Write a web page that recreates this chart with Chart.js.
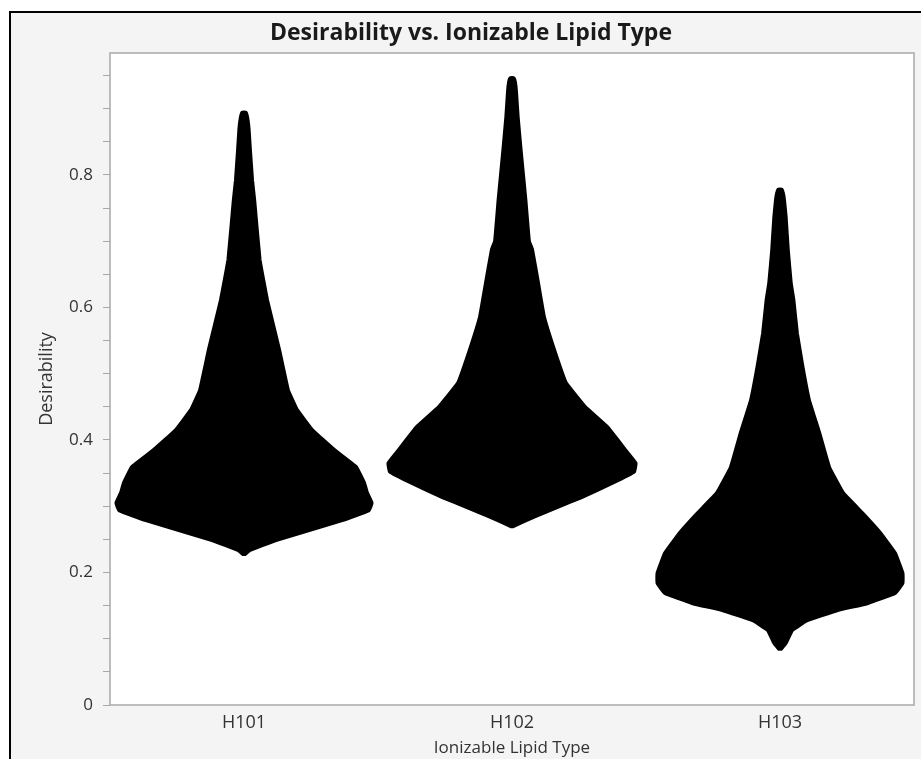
<!DOCTYPE html>
<html>
<head>
<meta charset="utf-8">
<title>Desirability vs. Ionizable Lipid Type</title>
<script src="https://cdn.jsdelivr.net/npm/chart.js@4.4.1/dist/chart.umd.min.js"></script>
<style>
    html, body { margin: 0; padding: 0; background: #fff; }
    #wrap { width: 921px; height: 759px; }
</style>
</head>
<body>
<div id="wrap"><canvas id="violinChart" width="921" height="759"></canvas></div>
<script>
// --- Data ---
const categories = ['H101', 'H102', 'H103'];
const yTicks = [0, 0.2, 0.4, 0.6, 0.8];

// desirability levels (bottom -> top) and half width of the swarm at that level (x units)
const h101Levels = [0.228, 0.234, 0.249, 0.264, 0.279, 0.294, 0.305, 0.320, 0.335, 0.359, 0.385, 0.415, 0.445, 0.475, 0.536, 0.611, 0.672, 0.762, 0.792, 0.838, 0.870, 0.886, 0.894];
const h101Widths = [0.004, 0.022, 0.119, 0.243, 0.366, 0.466, 0.476, 0.459, 0.448, 0.418, 0.336, 0.254, 0.198, 0.164, 0.131, 0.086, 0.058, 0.038, 0.030, 0.022, 0.017, 0.012, 0.006];

const h102Levels = [0.270, 0.284, 0.299, 0.313, 0.335, 0.352, 0.365, 0.385, 0.420, 0.450, 0.486, 0.536, 0.586, 0.637, 0.687, 0.700, 0.762, 0.838, 0.888, 0.925, 0.940, 0.946];
const h102Widths = [0.004, 0.080, 0.170, 0.255, 0.373, 0.455, 0.461, 0.422, 0.354, 0.272, 0.201, 0.157, 0.119, 0.097, 0.075, 0.063, 0.050, 0.032, 0.021, 0.015, 0.011, 0.006];

const h103Levels = [0.085, 0.094, 0.113, 0.128, 0.143, 0.154, 0.169, 0.184, 0.199, 0.229, 0.260, 0.290, 0.320, 0.359, 0.411, 0.460, 0.510, 0.561, 0.611, 0.637, 0.687, 0.737, 0.762, 0.772, 0.778];
const h103Widths = [0.004, 0.022, 0.045, 0.101, 0.213, 0.328, 0.429, 0.457, 0.457, 0.429, 0.373, 0.306, 0.235, 0.183, 0.146, 0.108, 0.084, 0.063, 0.050, 0.040, 0.029, 0.021, 0.015, 0.011, 0.006];

// right side going up, then left side coming down -> closed outline
function outline(center, levels, widths) {
    const pts = [];
    for (let i = 0; i < levels.length; i++) pts.push({ x: center + widths[i], y: levels[i] });
    for (let i = levels.length - 1; i >= 0; i--) pts.push({ x: center - widths[i], y: levels[i] });
    return pts;
}

document.addEventListener('DOMContentLoaded', function() {

    const FONT = "'Open Sans', 'Noto Sans', sans-serif";

    const violin = (label, data) => ({
        label: label,
        data: data,
        showLine: true,
        fill: 'shape',
        backgroundColor: '#000',
        borderColor: '#000',
        borderWidth: 4,
        borderJoinStyle: 'round',
        borderCapStyle: 'round',
        pointRadius: 0,
        tension: 0.08
    });

    // frame, grey panel and white plot area
    const framePlugin = {
        id: 'framePlugin',
        beforeDraw(chart) {
            const { ctx, chartArea: a } = chart;
            ctx.save();
            ctx.fillStyle = '#fff';
            ctx.fillRect(0, 0, chart.width, chart.height);
            ctx.fillStyle = '#f4f4f4';
            ctx.fillRect(11, 13, chart.width - 11, chart.height - 13);
            ctx.fillStyle = '#000';
            ctx.fillRect(9, 11, 2, chart.height - 11);
            ctx.fillRect(9, 11, chart.width - 9, 2);
            ctx.fillStyle = '#fff';
            ctx.fillRect(a.left, a.top, a.right - a.left, a.bottom - a.top);
            ctx.restore();
        },
        afterDatasetsDraw(chart) {
            const { ctx, chartArea: a } = chart;
            ctx.save();
            ctx.strokeStyle = '#a8a8a8';
            ctx.lineWidth = 1.5;
            ctx.strokeRect(a.left, a.top, a.right - a.left, a.bottom - a.top);
            ctx.restore();
        }
    };

    const config = {
        type: 'scatter',
        data: {
            datasets: [
                violin(categories[0], outline(0, h101Levels, h101Widths)),
                violin(categories[1], outline(1, h102Levels, h102Widths)),
                violin(categories[2], outline(2, h103Levels, h103Widths))
            ]
        },
        options: {
            responsive: false,
            animation: false,
            layout: { padding: { left: 28, right: 7, top: 0, bottom: 0 } },
            plugins: {
                legend: { display: false },
                tooltip: { enabled: false },
                title: {
                    display: true,
                    text: 'Desirability vs. Ionizable Lipid Type',
                    color: '#1a1a1a',
                    font: { family: FONT, size: 23, weight: 'bold' },
                    padding: { top: 19.2, bottom: 6.2 }
                }
            },
            scales: {
                x: {
                    type: 'linear',
                    min: -0.5,
                    max: 2.5,
                    afterBuildTicks: function(scale) {
                        scale.ticks = categories.map((c, i) => ({ value: i }));
                    },
                    afterFit: function(scale) { scale.height = 54; },
                    grid: { display: false, drawTicks: false },
                    border: { display: false },
                    ticks: {
                        color: '#333',
                        padding: 7,
                        font: { family: FONT, size: 18 },
                        callback: function(value) { return categories[value] || ''; }
                    },
                    title: {
                        display: true,
                        text: 'Ionizable Lipid Type',
                        color: '#333',
                        font: { family: FONT, size: 17 },
                        padding: { top: 0, bottom: 1 }
                    }
                },
                y: {
                    min: 0,
                    max: 0.984,
                    afterFit: function(scale) { scale.width = 82; },
                    grid: {
                        drawOnChartArea: false,
                        tickLength: 7,
                        tickColor: '#a8a8a8'
                    },
                    border: { display: false },
                    ticks: {
                        stepSize: 0.05,
                        includeBounds: false,
                        autoSkip: false,
                        color: '#333',
                        padding: 10,
                        font: { family: FONT, size: 17 },
                        callback: function(value) {
                            const hit = yTicks.find(t => Math.abs(t - value) < 1e-6);
                            return hit === undefined ? '' : String(hit);
                        }
                    },
                    title: {
                        display: true,
                        text: 'Desirability',
                        color: '#333',
                        font: { family: FONT, size: 18 },
                        padding: { top: 8, bottom: 0 }
                    }
                }
            }
        },
        plugins: [framePlugin]
    };

    new Chart(document.getElementById('violinChart'), config);
});
</script>
</body>
</html>
